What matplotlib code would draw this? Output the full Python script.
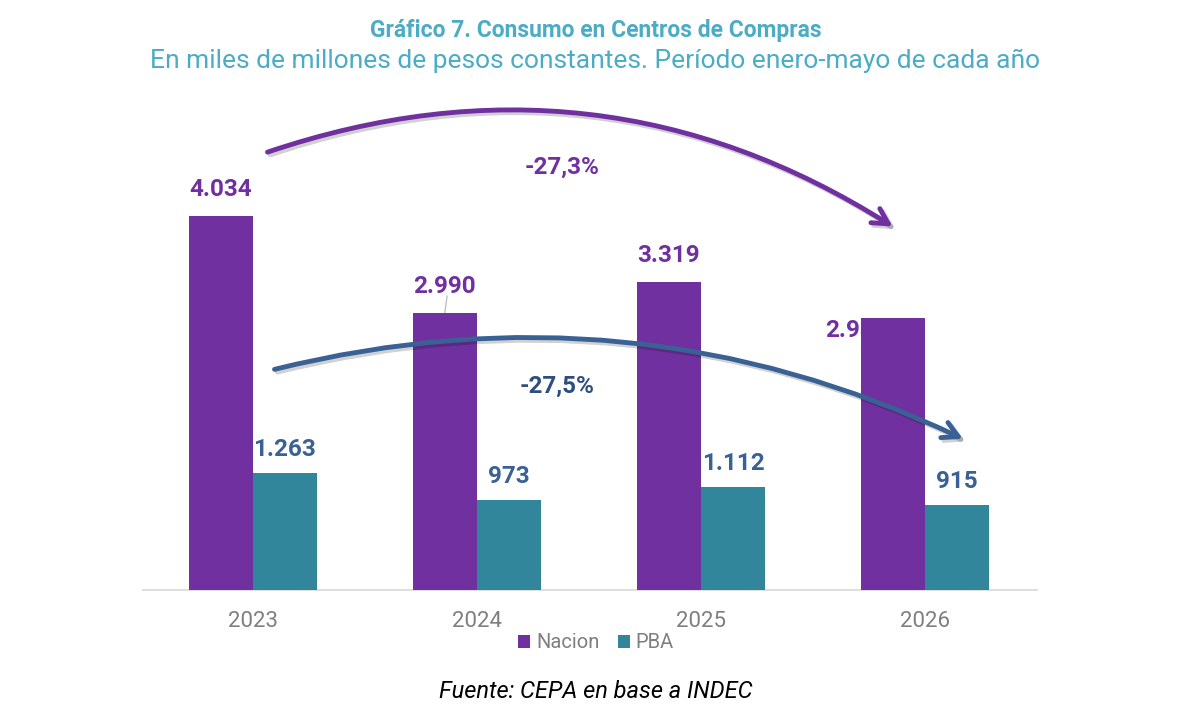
import matplotlib.pyplot as plt
import matplotlib.patheffects as pe
import numpy as np

plt.rcParams['font.family'] = ['Roboto', 'DejaVu Sans']

years = ['2023', '2024', '2025', '2026']
nacion = [4034, 2990, 3319, 2933]
pba = [1263, 973, 1112, 915]
nacion_lbl = ['4.034', '2.990', '3.319', '2.933']
pba_lbl = ['1.263', '973', '1.112', '915']

c_nac = '#7030A0'
c_pba = '#31869B'
c_pba_txt = '#3A6194'
c_title = '#4BACC6'

fig = plt.figure(figsize=(11.91, 7.16), dpi=100)
ax = fig.add_axes([143 / 1191, 126 / 716, 894 / 1191, 490 / 716])

x = np.arange(len(years))
w = 0.286
ax.bar(x - w / 2, nacion, w, color=c_nac, label='Nacion', zorder=3)
ax.bar(x + w / 2, pba, w, color=c_pba, label='PBA', zorder=3)

ax.set_xlim(-0.49, 3.5)
ax.set_ylim(0, 5286)

# etiquetas de valores
for i in range(len(years)):
    dx, dy = 0, 19
    if i == 3:
        dx, dy = -26, -9
    ax.annotate(nacion_lbl[i], (x[i] - w / 2, nacion[i]), xytext=(dx, dy),
                textcoords='offset points', ha='center', va='center',
                fontsize=17.5, fontweight='bold', color=c_nac, zorder=2)
    ax.annotate(pba_lbl[i], (x[i] + w / 2, pba[i]), xytext=(0, 17),
                textcoords='offset points', ha='center', va='center',
                fontsize=17.5, fontweight='bold', color=c_pba_txt, zorder=2)

# linea guia de la etiqueta 2024
ax.plot([x[1] - w / 2 + 0.01, x[1] - w / 2], [nacion[1] + 180, nacion[1]],
        color='#BFBFBF', lw=1, zorder=2)

shadow = [pe.SimpleLineShadow(offset=(2, -2), alpha=0.18), pe.Normal()]

a1 = ax.annotate('', xy=(2.866, 3905), xytext=(0.054, 4714),
                 arrowprops=dict(arrowstyle='->,head_length=1.1,head_width=0.6',
                                 color=c_nac, lw=3.5,
                                 connectionstyle='arc3,rad=-0.24'),
                 zorder=4, annotation_clip=False)
a1.arrow_patch.set_path_effects(shadow)
a2 = ax.annotate('', xy=(3.18, 1618), xytext=(0.085, 2373),
                 arrowprops=dict(arrowstyle='->,head_length=1.1,head_width=0.6',
                                 color=c_pba_txt, lw=3.5,
                                 connectionstyle='arc3,rad=-0.18'),
                 zorder=4, annotation_clip=False)
a2.arrow_patch.set_path_effects(shadow)

ax.text(1.38, 4561, '-27,3%', ha='center', va='center', fontsize=17.5,
        fontweight='bold', color=c_nac)
ax.text(1.36, 2200, '-27,5%', ha='center', va='center', fontsize=17.5,
        fontweight='bold', color='#2E4E7E')

ax.set_xticks(x)
ax.set_xticklabels(years, fontsize=16, color='#7F7F7F')
ax.tick_params(axis='x', length=0, pad=15)
ax.set_yticks([])
for s in ['top', 'left', 'right']:
    ax.spines[s].set_visible(False)
ax.spines['bottom'].set_color('#D9D9D9')
ax.spines['bottom'].set_linewidth(1.2)

fig.legend(loc='center', bbox_to_anchor=(596 / 1191, 1 - 643 / 716), ncol=2,
           frameon=False, fontsize=14.5, handlelength=0.6, handleheight=0.6,
           handletextpad=0.3, columnspacing=0.9, labelcolor='#7F7F7F')

fig.text(0.5, 1 - 30 / 716, 'Gráfico 7. Consumo en Centros de Compras', ha='center',
         va='center', fontsize=16.5, fontweight='bold', color=c_title)
fig.text(0.5, 1 - 61 / 716, 'En miles de millones de pesos constantes. Período enero-mayo de cada año',
         ha='center', va='center', fontsize=19, color=c_title)
fig.text(0.5, 1 - 692 / 716, 'Fuente: CEPA en base a INDEC', ha='center', va='center',
         fontsize=17, style='italic', color='black')

fig.savefig('out.png', dpi=100)
